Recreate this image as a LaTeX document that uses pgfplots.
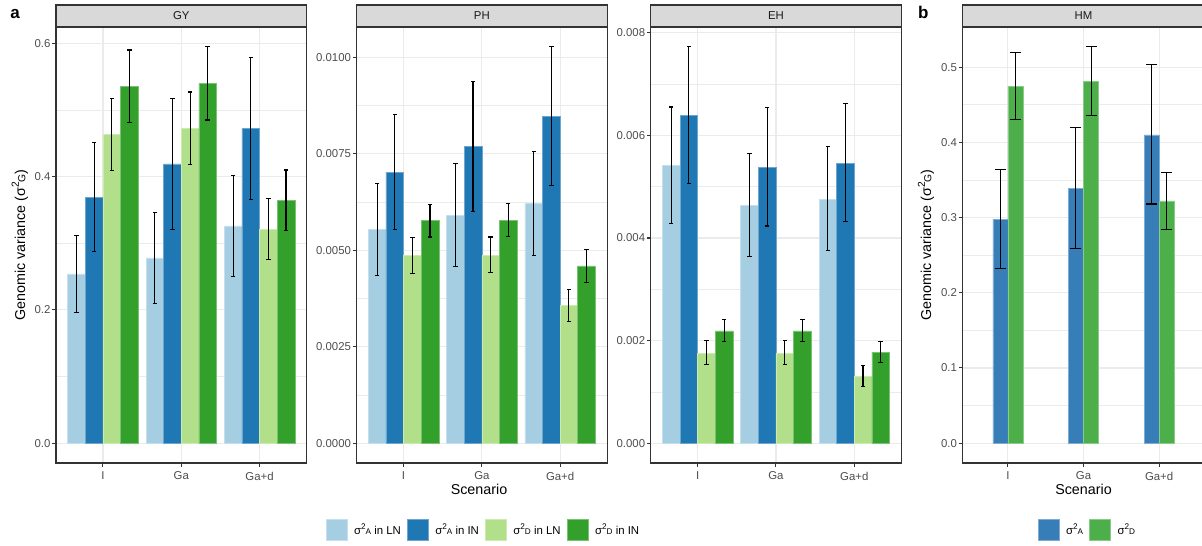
\documentclass[border=0pt]{standalone}
\usepackage{pgfplots}
\usepackage{pgfplotstable}
\usepackage{graphicx}
\pgfplotsset{compat=1.18}
\usepackage{fontspec}
\setmainfont{Liberation Sans}

% ColorBrewer "Paired" for panel a, "Set1" for panel b
\definecolor{pLNA}{HTML}{A6CEE3}
\definecolor{pINA}{HTML}{1F78B4}
\definecolor{pLND}{HTML}{B2DF8A}
\definecolor{pIND}{HTML}{33A02C}
\definecolor{sA}{HTML}{377EB8}
\definecolor{sD}{HTML}{4DAF4A}
\definecolor{grey92}{HTML}{EBEBEB}
\definecolor{grey85}{HTML}{D9D9D9}
\definecolor{grey30}{HTML}{4D4D4D}
\definecolor{grey20}{HTML}{333333}
\definecolor{grey10}{HTML}{1A1A1A}

% sigma^2 with a subscript hung on the exponent
\newcommand\sig[1]{σ\raisebox{0.42em}{\scalebox{0.72}{2\raisebox{-0.62em}{#1}}}}
\newcommand\ticksize{\fontsize{11.4pt}{13pt}\selectfont}
\newcommand\titlesize{\fontsize{14.3pt}{16pt}\selectfont}

% variance components: value, lower and upper limit of each interval
\pgfplotstableread{
x LNA LNAlo LNAhi INA INAlo INAhi LND LNDlo LNDhi IND INDlo INDhi
0 0.254 0.196 0.312 0.369 0.288 0.451 0.463 0.409 0.517 0.535 0.481 0.590
1 0.278 0.210 0.346 0.419 0.321 0.517 0.472 0.418 0.527 0.540 0.485 0.595
2 0.326 0.250 0.402 0.472 0.365 0.579 0.321 0.276 0.367 0.364 0.319 0.410
}\tabGY
\pgfplotstableread{
x LNA LNAlo LNAhi INA INAlo INAhi LND LNDlo LNDhi IND INDlo INDhi
0 0.005534 0.004353 0.006733 0.007026 0.005534 0.008526 0.004862 0.004405 0.005328 0.005767 0.005345 0.006198
1 0.005905 0.004586 0.007241 0.007698 0.006000 0.009387 0.004862 0.004414 0.005345 0.005776 0.005353 0.006215
2 0.006215 0.004870 0.007568 0.008465 0.006672 0.010275 0.003569 0.003146 0.003991 0.004594 0.004172 0.005017
}\tabPH
\pgfplotstableread{
x LNA LNAlo LNAhi INA INAlo INAhi LND LNDlo LNDhi IND INDlo INDhi
0 0.005413 0.004285 0.006554 0.006386 0.005057 0.007728 0.001757 0.001530 0.002003 0.002191 0.001977 0.002418
1 0.004642 0.003643 0.005653 0.005381 0.004233 0.006541 0.001757 0.001530 0.002003 0.002191 0.001977 0.002418
2 0.004759 0.003754 0.005783 0.005459 0.004318 0.006619 0.001303 0.001109 0.001517 0.001776 0.001569 0.001990
}\tabEH
\pgfplotstableread{
x A Alo Ahi D Dlo Dhi
0 0.298 0.232 0.364 0.474 0.430 0.519
1 0.339 0.259 0.420 0.481 0.436 0.527
2 0.410 0.318 0.504 0.322 0.284 0.360
}\tabHM

\pgfplotsset{
  gg/.style={
    scale only axis, height=436pt, anchor=south west,
    xmin=-0.6, xmax=2.6, xtick={0,1,2}, xticklabels={I,Ga,Ga+d},
    clip=false, scaled y ticks=false,
    tick align=outside, xtick pos=left, ytick pos=left,
    major tick length=3.6pt, minor tick length=0pt,
    tick style={grey20, line width=1.05pt},
    xmajorgrids, ymajorgrids, yminorgrids,
    major grid style={grey92, line width=1.1pt},
    minor grid style={grey92, line width=0.55pt},
    axis line style={grey20, line width=1.05pt},
    ticklabel style={font=\ticksize, text=grey30},
    yticklabel style={inner xsep=1.8pt},
    xticklabel style={inner ysep=5pt},
    legend style={draw=none, fill=none, inner sep=0pt, anchor=center,
      font=\ticksize,
      /tikz/every odd column/.append style={column sep=4.7pt},
      /tikz/every even column/.append style={column sep=4.2pt}},
  },
  sqkey/.style={legend image code/.code={\fill[##1] (0pt,-10.5pt) rectangle (21pt,10.5pt);}},
}

% one dodged bar series: table, column, colour, width, offset
\newcommand\bars[5]{%
  \addplot[ybar, bar width=#4, bar shift=0, fill=#3, draw=#3!65!white, line width=0.5pt, sqkey]
    table[x expr=\thisrow{x}+#5, y=#2] {#1};}
% its interval: table, column, offset, cap half-width
\newcommand\ints[4]{%
  \addplot[forget plot, draw=none, mark=none,
    error bars/.cd, y dir=both, y explicit, error mark=none,
    error bar style={draw=black, line width=1.1pt}]
    table[x expr=\thisrow{x}+#3, y=#2, y error plus expr=\thisrow{#2hi}-\thisrow{#2},
          y error minus expr=\thisrow{#2}-\thisrow{#2lo}] {#1};
  \addplot[forget plot, only marks, mark=-, mark size=#4, mark options={draw=black, line width=1.1pt}]
    table[x expr=\thisrow{x}+#3, y=#2hi] {#1};
  \addplot[forget plot, only marks, mark=-, mark size=#4, mark options={draw=black, line width=1.1pt}]
    table[x expr=\thisrow{x}+#3, y=#2lo] {#1};}

\newcommand\strip[1]{%
  \draw[grey20, line width=1.05pt, fill=grey85] (rel axis cs:0,1) rectangle ([yshift=22pt]rel axis cs:1,1);
  \node[font=\ticksize, text=grey10] at ([yshift=11pt]rel axis cs:0.5,1) {#1};}

% four dodged series of one trait, with intervals drawn on top
\newcommand\trait[1]{%
  \bars{#1}{LNA}{pLNA}{0.225}{-0.3375}
  \bars{#1}{INA}{pINA}{0.225}{-0.1125}
  \bars{#1}{LND}{pLND}{0.225}{0.1125}
  \bars{#1}{IND}{pIND}{0.225}{0.3375}
  \ints{#1}{LNA}{-0.3375}{2.2pt}
  \ints{#1}{INA}{-0.1125}{2.2pt}
  \ints{#1}{LND}{0.1125}{2.2pt}
  \ints{#1}{IND}{0.3375}{2.2pt}}

\begin{document}
\begin{tikzpicture}

\begin{axis}[gg, at={(56pt,83pt)}, width=250.5pt,
  ymin=-0.0297, ymax=0.6245, ytick={0,0.2,0.4,0.6}, yticklabels={0.0,0.2,0.4,0.6},
  minor ytick={0.1,0.3,0.5}, legend columns=4,
  legend style={at={(1.7066,-0.1537)}}]
  \trait{\tabGY}
  \legend{\sig{A} in LN, \sig{A} in IN, \sig{D} in LN, \sig{D} in IN}
  \strip{GY}
\end{axis}

\begin{axis}[gg, at={(356.6pt,83pt)}, width=250.5pt,
  ymin=-0.000514, ymax=0.010789, ytick={0,0.0025,0.005,0.0075,0.01},
  yticklabels={0.0000,0.0025,0.0050,0.0075,0.0100},
  minor ytick={0.00125,0.00375,0.00625,0.00875}]
  \trait{\tabPH}
  \strip{PH}
\end{axis}

\begin{axis}[gg, at={(650.7pt,83pt)}, width=250.5pt,
  ymin=-0.000387, ymax=0.008114, ytick={0,0.002,0.004,0.006,0.008},
  yticklabels={0.000,0.002,0.004,0.006,0.008},
  minor ytick={0.001,0.003,0.005,0.007}]
  \trait{\tabEH}
  \strip{EH}
\end{axis}

\begin{axis}[gg, at={(962.5pt,83pt)}, width=242pt,
  ymin=-0.02635, ymax=0.5533, ytick={0,0.1,0.2,0.3,0.4,0.5},
  yticklabels={0.0,0.1,0.2,0.3,0.4,0.5},
  minor ytick={0.05,0.15,0.25,0.35,0.45}, legend columns=2,
  legend style={at={(0.5165,-0.1537)}}]
  \bars{\tabHM}{A}{sA}{0.2}{-0.1}
  \bars{\tabHM}{D}{sD}{0.2}{0.1}
  \ints{\tabHM}{A}{-0.1}{5.5pt}
  \ints{\tabHM}{D}{0.1}{5.5pt}
  \legend{\sig{A}, \sig{D}}
  \strip{HM}
\end{axis}

% panel tags and shared axis titles
\node[anchor=base west, font=\fontsize{17pt}{17pt}\selectfont\bfseries] at (6.8pt,527.7pt) {a};
\node[anchor=base west, font=\fontsize{17pt}{17pt}\selectfont\bfseries] at (914.5pt,527.7pt) {b};
\node[anchor=base, rotate=90, font=\titlesize] at (25pt,301pt) {Genomic variance (\sig{G})};
\node[anchor=base, rotate=90, font=\titlesize] at (931pt,301pt) {Genomic variance (\sig{G})};
\node[anchor=base, font=\titlesize] at (479pt,51.5pt) {Scenario};
\node[anchor=base, font=\titlesize] at (1083.5pt,51.5pt) {Scenario};

\pgfresetboundingbox
\path[use as bounding box] (0,0) rectangle (1202pt,546pt);
\end{tikzpicture}
\end{document}
